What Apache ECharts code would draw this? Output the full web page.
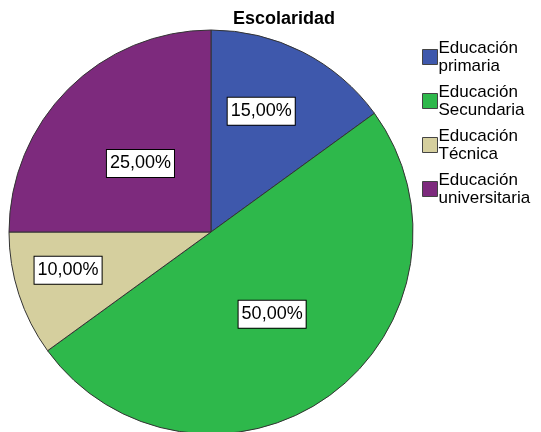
<!DOCTYPE html>
<html>
<head>
<meta charset="utf-8">
<script src="https://cdn.jsdelivr.net/npm/echarts@6/dist/echarts.min.js"></script>
<style>
  html, body { margin: 0; padding: 0; background: #fff; }
  #pie-chart { width: 541px; height: 432px; }
</style>
</head>
<body>
<div id="pie-chart"></div>
<script>
var categorias = ['Educación\nprimaria', 'Educación\nSecundaria', 'Educación\nTécnica', 'Educación\nuniversitaria'];
var porcentajes = [15, 50, 10, 25];
var colores = ['#3E58AC', '#2EB84B', '#D5CF9E', '#7D2A7D'];
// ajuste de etiquetas como en el original
var desplazamientos = [[3, -28], [0, -2], [-44, 6], [3, 5]];

var myChart = echarts.init(document.getElementById('pie-chart'));

var datos = categorias.map(function (nombre, i) {
  return {
    name: nombre,
    value: porcentajes[i],
    itemStyle: { color: colores[i] },
    label: { offset: desplazamientos[i] }
  };
});

myChart.setOption({
  animation: false,
  title: {
    text: 'Escolaridad',
    left: 279,
    top: 5,
    textAlign: 'center',
    textStyle: { fontFamily: 'Liberation Sans', fontSize: 18, fontWeight: 'bold', color: '#000' }
  },
  legend: {
    orient: 'vertical',
    left: 417,
    top: 34,
    itemWidth: 15,
    itemHeight: 15,
    itemGap: 8,
    icon: 'rect',
    itemStyle: { borderColor: '#444', borderWidth: 1 },
    textStyle: { fontFamily: 'Liberation Sans', fontSize: 17, color: '#000', lineHeight: 18, padding: [0, 0, 0, -4] },
    data: categorias
  },
  series: [
    {
      type: 'pie',
      center: [211, 232],
      radius: 202,
      startAngle: 90,
      clockwise: true,
      data: datos,
      itemStyle: { borderColor: '#333', borderWidth: 1 },
      label: {
        position: 'inside',
        formatter: function (p) { return p.value.toFixed(2).replace('.', ',') + '%'; },
        fontFamily: 'Liberation Sans',
        fontSize: 18,
        color: '#000',
        backgroundColor: '#fff',
        borderColor: '#000',
        borderWidth: 1,
        padding: [5, 3, 4, 3]
      },
      labelLine: { show: false },
      emphasis: { disabled: true }
    }
  ]
});
</script>
</body>
</html>
